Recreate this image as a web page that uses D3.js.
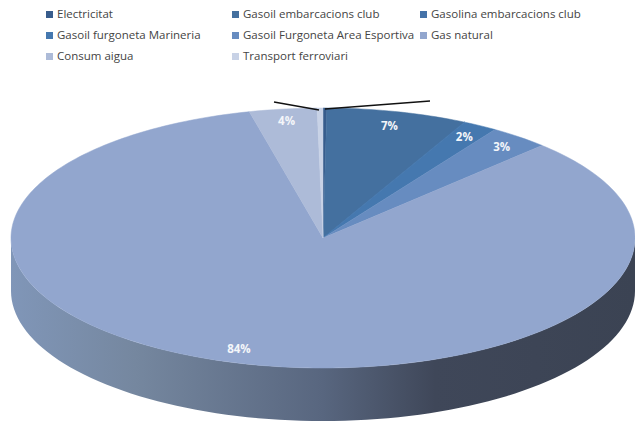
<!DOCTYPE html>
<html><head><meta charset="utf-8"><script src="https://cdn.jsdelivr.net/npm/d3@7/dist/d3.min.js"></script>
<style>html,body{margin:0;background:#fff}svg{display:block}text{font-family:"Open Sans","DejaVu Sans",sans-serif}</style></head>
<body><svg id="c" width="635" height="422"></svg>
<script>
const categories=["Electricitat","Gasoil embarcacions club","Gasolina embarcacions club","Gasoil furgoneta Marineria","Gasoil Furgoneta Area Esportiva","Gas natural","Consum aigua","Transport ferroviari"];
const values=[0.2,7.3,0,1.8,3.1,83.9,3.5,0.3];
const labels=["","7%","","2%","3%","84%","4%",""];
const colors=["#375c8c","#44709f","#4472a8","#4578af","#678cc0","#92a6ce","#adbbd8","#c8d2e6"];
const legendCols=[46,232,420];
const legendRows=[14,35,56];
const cx=323,cy=238,rx=312,ry=130,depth=53;
const svg=d3.select("#c");
const defs=svg.append("defs");
const grad=defs.append("linearGradient").attr("id","side").attr("gradientUnits","userSpaceOnUse").attr("x1",cx-rx).attr("x2",cx+rx).attr("y1",0).attr("y2",0);
[[0,"#8096b8"],[0.2,"#75879f"],[0.5,"#58667f"],[0.68,"#3f4759"],[1,"#3b4353"]].forEach(s=>grad.append("stop").attr("offset",s[0]).attr("stop-color",s[1]));
const xs=d3.scaleLinear().domain([-1,1]).range([cx-rx,cx+rx]);
const ys=d3.scaleLinear().domain([-1,1]).range([cy+ry,cy-ry]);
const arcT=d3.range(90,271,2).map(d=>d*Math.PI/180);
const wall=d3.path();
arcT.forEach((t,i)=>{const x=xs(Math.sin(t)),y=ys(Math.cos(t));i?wall.lineTo(x,y):wall.moveTo(x,y)});
arcT.slice().reverse().forEach(t=>wall.lineTo(xs(Math.sin(t)),ys(Math.cos(t))+depth));
wall.closePath();
svg.append("path").attr("d",wall.toString()).attr("fill","url(#side)");
const arcs=d3.pie().sort(null)(values);
const slicePath=a=>{const n=Math.max(2,Math.ceil((a.endAngle-a.startAngle)/0.02));const p=d3.path();p.moveTo(cx,cy);
 d3.range(n+1).forEach(i=>{const t=a.startAngle+(a.endAngle-a.startAngle)*i/n;p.lineTo(xs(Math.sin(t)),ys(Math.cos(t)))});p.closePath();return p.toString()};
svg.append("g").selectAll("path").data(arcs).join("path").attr("d",slicePath).attr("fill",(d,i)=>colors[i]).attr("stroke",(d,i)=>colors[i]).attr("stroke-width",0.5);
const lrx=[0,0.89,0,0.9,0.91,1.01,0.91,0];
const lry=[0,0.89,0,0.9,0.9,0.888,0.91,0];
svg.append("g").selectAll("text").data(arcs).join("text").text((d,i)=>labels[i])
 .attr("x",(d,i)=>xs(Math.sin((d.startAngle+d.endAngle)/2)*lrx[i]))
 .attr("y",(d,i)=>ys(Math.cos((d.startAngle+d.endAngle)/2)*lry[i])+4)
 .attr("text-anchor","middle").attr("font-size",11.5).attr("font-weight",700).attr("fill","#f4f6fa");
const leaders=[[[319,110],[274,102]],[[325,109],[430,101]]];
const ln=d3.line();
svg.append("g").selectAll("path").data(leaders).join("path").attr("d",ln).attr("fill","none").attr("stroke","#111").attr("stroke-width",1.3);
const lg=svg.append("g").selectAll("g").data(categories).join("g")
 .attr("transform",(d,i)=>`translate(${legendCols[i%3]},${legendRows[Math.floor(i/3)]})`);
lg.append("rect").attr("x",0).attr("y",-3).attr("width",7).attr("height",7).attr("fill",(d,i)=>colors[i]);
lg.append("text").attr("x",11).attr("y",4).attr("font-size",11.5).attr("fill","#444").text(d=>d);
</script></body></html>
